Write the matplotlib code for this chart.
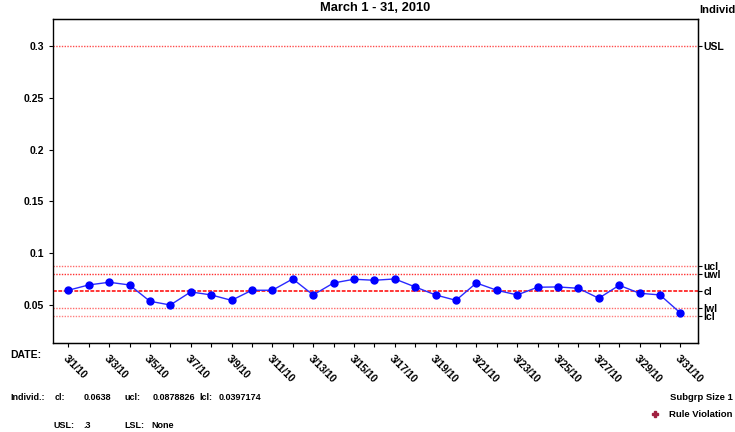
import numpy as np
import matplotlib.pyplot as plt

plt.rcParams['font.family'] = ['Liberation Sans', 'DejaVu Sans']
plt.rcParams['font.weight'] = 'bold'

# daily individual values, March 2010
days = np.arange(1, 32)
values = [0.0645, 0.0696, 0.0722, 0.0696, 0.0539, 0.0503, 0.0629, 0.0600,
          0.0548, 0.0645, 0.0645, 0.0754, 0.0600, 0.0715, 0.0751, 0.0741,
          0.0754, 0.0677, 0.0600, 0.0548, 0.0715, 0.0645, 0.0600, 0.0674,
          0.0677, 0.0664, 0.0568, 0.0693, 0.0616, 0.0600, 0.0426]

cl = 0.0638
ucl = 0.0878826
lcl = 0.0397174
uwl = cl + 2.0 / 3.0 * (ucl - cl)
lwl = cl - 2.0 / 3.0 * (cl - lcl)
usl = 0.3

ytick_vals = [0.05, 0.1, 0.15, 0.2, 0.25, 0.3]
ytick_labels = ['0.05', '0.1', '0.15', '0.2', '0.25', '0.3']
date_labels = ['3/%d/10' % d for d in days]

fig = plt.figure(figsize=(7.35, 4.32), dpi=100)
ax = fig.add_axes([0.0721, 0.2067, 0.8772, 0.7482])

# limit lines
ax.axhline(usl, color='#ff4d4d', lw=1, ls=(0, (1, 1)))
ax.axhline(ucl, color='#ff6b6b', lw=1, ls=(0, (1, 1)))
ax.axhline(uwl, color='#ff3030', lw=1, ls=(0, (1, 1)))
ax.axhline(cl, color='#ff0000', lw=1.1, ls=(0, (2.5, 1)))
ax.axhline(lwl, color='#ff6b6b', lw=1, ls=(0, (1, 1)))
ax.axhline(lcl, color='#ff8080', lw=1, ls=(0, (1, 1)))

ax.plot(days, values, color='#2a2aff', lw=1, marker='o', ms=5,
        markerfacecolor='#0000ff', markeredgecolor='#0000ff', zorder=3)

ax.set_xlim(0.25, 31.85)
ax.set_ylim(0.014, 0.3252)

ax.set_yticks(ytick_vals, ytick_labels)
ax.set_xticks(days)
ax.set_xticklabels([lab if i % 2 == 0 else '' for i, lab in enumerate(date_labels)],
                   rotation=-45, ha='left', va='top', rotation_mode='anchor')
ax.tick_params(axis='both', labelsize=7.5, length=3, width=0.8, direction='out')
ax.tick_params(axis='x', pad=5)
for sp in ax.spines.values():
    sp.set_linewidth(1)
ax.spines['left'].set_color('#555555')

ax2 = ax.twinx()
ax2.set_ylim(ax.get_ylim())
ax2.set_yticks([usl, ucl, uwl, cl, lwl, lcl], ['USL', 'ucl', 'uwl', 'cl', 'lwl', 'lcl'])
ax2.tick_params(axis='y', labelsize=7.5, length=3, width=0.8, pad=1)

fig.text(0.511, 0.981, 'March 1 - 31, 2010', ha='center', va='center', fontsize=9.3)
fig.text(0.952, 0.977, 'Individ', ha='left', va='center', fontsize=8)
fig.text(0.014, 0.178, 'DATE:', ha='left', va='center', fontsize=7.5)

# summary text at bottom
fig.text(0.014, 0.079, 'Individ.:', ha='left', va='center', fontsize=6.5)
fig.text(0.074, 0.079, 'cl:', ha='left', va='center', fontsize=6.5)
fig.text(0.114, 0.079, '%.4f' % cl, ha='left', va='center', fontsize=6.5)
fig.text(0.169, 0.079, 'ucl:', ha='left', va='center', fontsize=6.5)
fig.text(0.207, 0.079, '%.7f' % ucl, ha='left', va='center', fontsize=6.5)
fig.text(0.271, 0.079, 'lcl:', ha='left', va='center', fontsize=6.5)
fig.text(0.298, 0.079, '%.7f' % lcl, ha='left', va='center', fontsize=6.5)
fig.text(0.073, 0.016, 'USL:', ha='left', va='center', fontsize=6.5)
fig.text(0.113, 0.016, '.3', ha='left', va='center', fontsize=6.5)
fig.text(0.169, 0.016, 'LSL:', ha='left', va='center', fontsize=6.5)
fig.text(0.206, 0.016, 'None', ha='left', va='center', fontsize=6.5)

fig.text(0.997, 0.079, 'Subgrp Size 1', ha='right', va='center', fontsize=6.8)
fig.text(0.997, 0.041, 'Rule Violation', ha='right', va='center', fontsize=6.8)
fig.lines.append(plt.Line2D([0.891], [0.041], transform=fig.transFigure, marker='P',
                            ms=4.5, color='#a02040', mec='#a02040', ls='none'))

fig.savefig('out.png', dpi=100)
